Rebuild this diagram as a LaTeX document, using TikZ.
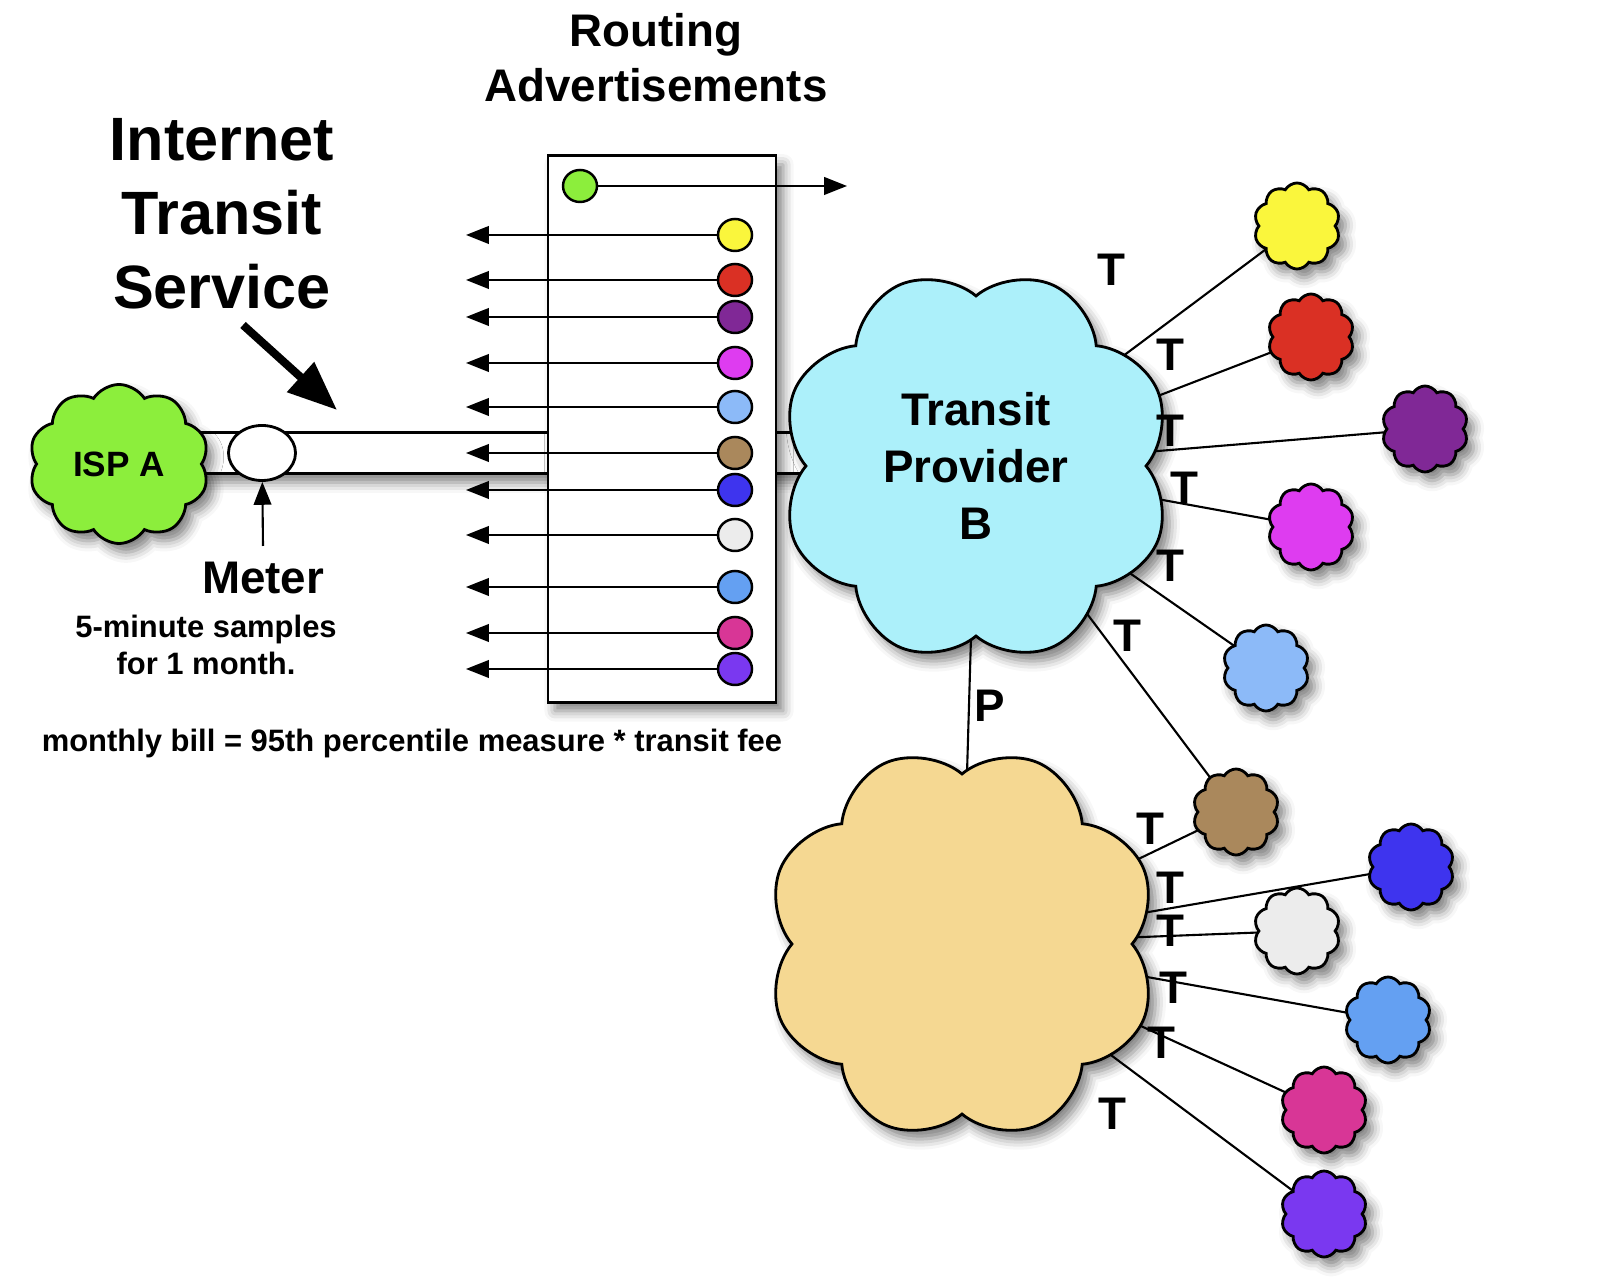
\documentclass[tikz,border=0pt]{standalone}
\usepackage{fontspec}
\setmainfont{Liberation Sans}
\usetikzlibrary{shapes.symbols, shapes.geometric, arrows.meta, positioning, shadows.blur, backgrounds}

\definecolor{ispgreen}{RGB}{140,238,60}
\definecolor{transitcyan}{RGB}{172,240,250}
\definecolor{peertan}{RGB}{245,216,146}
\definecolor{custyellow}{RGB}{250,246,60}
\definecolor{custred}{RGB}{218,48,36}
\definecolor{custpurple}{RGB}{128,40,150}
\definecolor{custmagenta}{RGB}{222,60,240}
\definecolor{custsky}{RGB}{140,186,248}
\definecolor{custbrown}{RGB}{170,136,92}
\definecolor{custblue}{RGB}{62,52,238}
\definecolor{custwhite}{RGB}{236,236,236}
\definecolor{custcorn}{RGB}{100,160,242}
\definecolor{custpink}{RGB}{216,54,150}
\definecolor{custviolet}{RGB}{122,56,240}

\begin{document}
\begin{tikzpicture}[
    x=0.01cm, y=-0.01cm,
    softshadow/.style={blur shadow={shadow xshift=2pt, shadow yshift=-2.5pt, shadow blur radius=3pt, shadow opacity=50}},
    bigcloud/.style={cloud, draw, line width=0.8pt, cloud puffs=8, cloud puff arc=125, rotate=22.5, aspect=1, minimum width=3.93cm, minimum height=3.93cm, softshadow},
    smallcloud/.style={cloud, draw, line width=0.8pt, cloud puffs=10, cloud puff arc=120, aspect=1, minimum width=0.86cm, minimum height=0.86cm, softshadow},
    advdot/.style={ellipse, draw, line width=0.7pt, minimum width=0.34cm, minimum height=0.32cm, inner sep=0pt},
    arrow/.style={line width=0.6pt, -{Triangle[length=6.5pt, width=5pt]}},
    link/.style={line width=0.6pt},
    tlabel/.style={font=\fontsize{13}{13}\selectfont\bfseries, inner sep=0pt}
]
    \useasboundingbox (0,0) rectangle (1600,1286);

    % titles
    \node (service) [align=center, font=\fontsize{17.4}{21}\selectfont\bfseries] at (222,214) {Internet\\Transit\\Service};
    \node (routing) [align=center, font=\fontsize{13}{15.6}\selectfont\bfseries] at (656,58) {Routing\\Advertisements};
    \coordinate (svcfrom) at (243,325);
    \coordinate (svcto) at (337,410);
    \draw [line width=2.3pt, -{Triangle[length=14pt, width=11pt]}] (svcfrom) -- (svcto);

    % transit pipe and router table
    \node (pipe) [draw, fill=white, line width=0.8pt, minimum width=6.7cm, minimum height=0.41cm, inner sep=0pt, softshadow] at (515,453) {};
    \node (router) [draw, fill=white, line width=0.8pt, minimum width=2.28cm, minimum height=5.46cm, inner sep=0pt, softshadow] at (662,429) {};

    \node (own) [advdot, fill=ispgreen] at (580,186) {};
    \coordinate (ownout) at (847,186);
    \draw [arrow] (own) -- (ownout);

    \foreach \n/\y/\c in {1/235/custyellow, 2/280/custred, 3/317/custpurple, 4/363/custmagenta, 5/407/custsky, 6/453/custbrown, 7/490/custblue, 8/535/custwhite, 9/587/custcorn, 10/633/custpink, 11/669/custviolet} {
        \node (dot\n) [advdot, fill=\c] at (735,\y) {};
        \coordinate (adv\n) at (466,\y);
        \draw [arrow] (dot\n) -- (adv\n);
    }

    % ISP A and the meter
    \node (ispa) [cloud, draw, fill=ispgreen, line width=0.8pt, cloud puffs=10, cloud puff arc=115, aspect=1.18, minimum width=1.8cm, minimum height=1.53cm, font=\fontsize{10}{12}\selectfont\bfseries, softshadow] at (119,464) {ISP A};
    \node (meter) [ellipse, draw, fill=white, line width=0.8pt, minimum width=0.67cm, minimum height=0.55cm] at (262,453) {};
    \node (meterlabel) [font=\fontsize{13}{13}\selectfont\bfseries] at (263,578) {Meter};
    \coordinate (meterfoot) at (263,546);
    \draw [arrow] (meterfoot) -- (meter);
    \node (samples) [align=center, font=\fontsize{8.8}{10.3}\selectfont\bfseries] at (206,645) {5-minute samples\\for 1 month.};
    \node (bill) [font=\fontsize{8.8}{10.3}\selectfont\bfseries] at (412,744) {monthly bill = 95th percentile measure * transit fee};

    % providers
    \node (transitb) [bigcloud, fill=transitcyan] at (976,466) {};
    \node (transitname) [align=center, font=\fontsize{13}{16.2}\selectfont\bfseries] at (transitb.center) {Transit\\Provider\\B};
    \node (peer) [bigcloud, fill=peertan] at (962,944) {};

    % customers
    \foreach \n/\x/\y/\c in {1/1297/226/custyellow, 2/1311/337/custred, 3/1425/429/custpurple, 4/1311/527/custmagenta, 5/1266/668/custsky, 6/1236/812/custbrown, 7/1411/867/custblue, 8/1297/931/custwhite, 9/1388/1020/custcorn, 10/1324/1110/custpink, 11/1324/1214/custviolet}
        \node (cust\n) [smallcloud, fill=\c] at (\x,\y) {};

    \begin{scope}[on background layer]
        \draw [link] (transitb.center) -- (peer.center);
        \foreach \n in {1,...,6}
            \draw [link] (transitb.center) -- (cust\n.center);
        \foreach \n in {6,...,11}
            \draw [link] (peer.center) -- (cust\n.center);
    \end{scope}

    % relationship labels
    \node (plabel) [tlabel] at (990,706) {P};
    \foreach \n/\x/\y in {1/1111/270, 2/1170/355, 3/1170/431, 4/1184/488, 5/1170/566, 6/1127/636, 7/1150/829, 8/1170/888, 9/1170/931, 10/1173/988, 11/1161/1043, 12/1112/1114}
        \node (t\n) [tlabel] at (\x,\y) {T};
\end{tikzpicture}
\end{document}
